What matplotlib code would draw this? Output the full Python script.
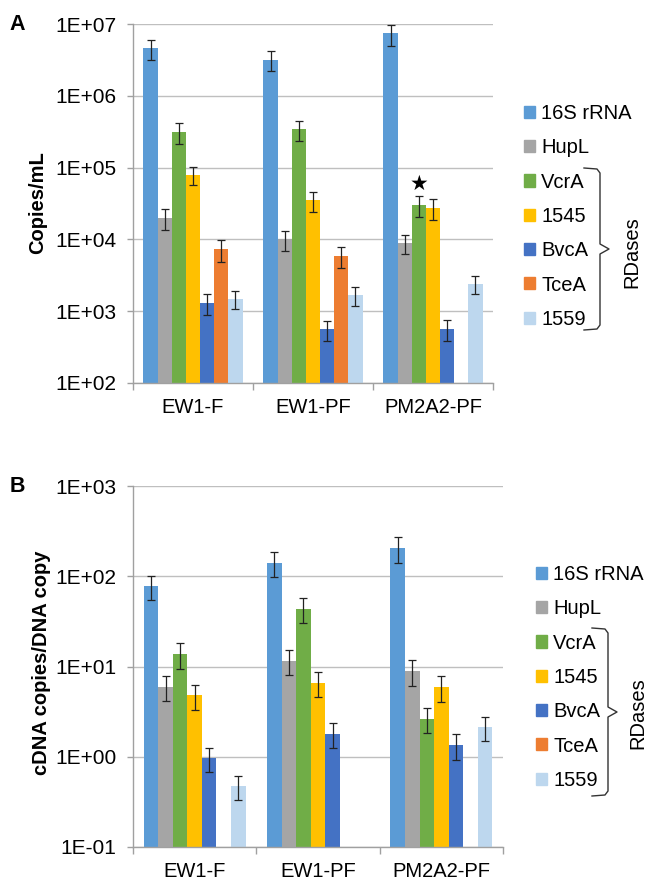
import numpy as np
import matplotlib
matplotlib.use('Agg')
import matplotlib.pyplot as plt
from matplotlib.lines import Line2D
from matplotlib.patches import Patch
from matplotlib.ticker import FixedLocator, FuncFormatter, NullLocator

plt.rcParams['font.family'] = ['Liberation Sans', 'DejaVu Sans']

groups = ['EW1-F', 'EW1-PF', 'PM2A2-PF']
genes = ['16S rRNA', 'HupL', 'VcrA', '1545', 'BvcA', 'TceA', '1559']
colors = ['#5B9BD5', '#A5A5A5', '#70AD47', '#FFC000', '#4472C4', '#ED7D31', '#BDD7EE']
nan = np.nan

# panel A - copies/mL (gene order as above)
a_ew1f = [4.6e6, 2.0e4, 3.15e5, 8.0e4, 1.3e3, 7.3e3, 1.5e3]
a_ew1f_err = [1.4e6, 6.5e3, 1.0e5, 2.3e4, 4.2e2, 2.4e3, 4.4e2]
a_ew1pf = [3.2e6, 1.0e4, 3.45e5, 3.5e4, 5.6e2, 5.9e3, 1.67e3]
a_ew1pf_err = [1.0e6, 3.2e3, 1.07e5, 1.08e4, 1.8e2, 1.9e3, 4.9e2]
a_pm2a2 = [7.4e6, 8.9e3, 3.05e4, 2.75e4, 5.7e2, nan, 2.4e3]
a_pm2a2_err = [2.4e6, 2.7e3, 9.8e3, 8.7e3, 1.8e2, nan, 6.6e2]

# panel B - cDNA copies per DNA copy
b_ew1f = [77, 6.0, 13.9, 4.8, 0.97, nan, 0.47]
b_ew1f_err = [23, 1.8, 4.4, 1.5, 0.29, nan, 0.14]
b_ew1pf = [142, 11.6, 43.7, 6.6, 1.8, nan, nan]
b_ew1pf_err = [44, 3.5, 13.6, 2.0, 0.54, nan, nan]
b_pm2a2 = [208, 8.95, 2.64, 5.9, 1.36, nan, 2.12]
b_pm2a2_err = [66, 2.8, 0.83, 1.85, 0.43, nan, 0.62]

W, H = 664, 893
fig = plt.figure(figsize=(W / 100, H / 100), dpi=100)


def fxy(px, py):
    return px / W, 1 - py / H


def draw_panel(ax, vals, errs, ylim):
    vals = np.array(vals)
    errs = np.array(errs)
    n = len(genes)
    w = 0.118
    centers = np.arange(len(groups)) + 0.5
    for i in range(n):
        x = centers + (i - (n - 1) / 2) * w
        v = vals[:, i]
        e = errs[:, i]
        ok = ~np.isnan(v)
        if ok.any():
            ax.bar(x[ok], v[ok], w, color=colors[i], zorder=2)
            ax.errorbar(x[ok], v[ok], yerr=e[ok], fmt='none', ecolor='#222222',
                        elinewidth=0.9, capsize=3, capthick=0.9, zorder=3)
    ax.set_yscale('log')
    ax.set_ylim(*ylim)
    ax.set_xlim(0, len(groups))
    decades = 10.0 ** np.arange(np.log10(ylim[0]), np.log10(ylim[1]) + 1)
    ax.yaxis.set_major_locator(FixedLocator(decades))
    ax.yaxis.set_minor_locator(NullLocator())
    ax.yaxis.set_major_formatter(FuncFormatter(lambda v, p: '{:.0E}'.format(v)))
    ax.xaxis.set_major_locator(FixedLocator(centers))
    ax.xaxis.set_major_formatter(FuncFormatter(lambda v, p: groups[int(v)]))
    ax.xaxis.set_minor_locator(FixedLocator(np.arange(len(groups) + 1)))
    ax.tick_params(axis='x', which='major', length=0, pad=11, labelsize=14.5)
    ax.tick_params(axis='x', which='minor', length=5, width=1, color='#A0A0A0')
    ax.tick_params(axis='y', which='major', length=4, width=1, color='#A0A0A0',
                   pad=8, labelsize=15)
    ax.yaxis.grid(True, color='#BFBFBF', lw=1)
    ax.set_axisbelow(True)
    for s in ['top', 'right']:
        ax.spines[s].set_visible(False)
    for s in ['left', 'bottom']:
        ax.spines[s].set_color('#A0A0A0')
        ax.spines[s].set_linewidth(1)
    handles = [Patch(color=c) for c in colors]
    return handles


def brace(pts):
    xs, ys = zip(*[fxy(px, py) for px, py in pts])
    fig.add_artist(Line2D(xs, ys, color='#333333', lw=1, transform=fig.transFigure))


leg_kw = dict(loc='upper left', bbox_transform=fig.transFigure, frameon=False,
              fontsize=14.5, handlelength=0.55, handleheight=0.55, handletextpad=0.3,
              labelspacing=0.76, borderpad=0, borderaxespad=0)

# Panel A
axA = fig.add_axes([133 / W, 1 - 383 / H, 360 / W, 359 / H])
hA = draw_panel(axA, [a_ew1f, a_ew1pf, a_pm2a2],
                [a_ew1f_err, a_ew1pf_err, a_pm2a2_err], (1e2, 1e7))
# star above VcrA in PM2A2-PF
xs_star = 2.5 + (2 - 3) * 0.118
axA.annotate('★', xy=(xs_star, a_pm2a2[2] + a_pm2a2_err[2]), xytext=(0, 9),
             textcoords='offset points', ha='center', va='center', fontsize=15,
             family='DejaVu Sans')
axA.legend(hA, genes, bbox_to_anchor=fxy(524, 104), **leg_kw)
fig.text(*fxy(38, 203), 'Copies/mL', rotation=90, ha='center', va='center',
         fontsize=14.5, fontweight='bold')
fig.text(*fxy(17, 24), 'A', ha='center', va='center', fontsize=15.5, fontweight='bold')
brace([(584, 168), (597, 169), (600, 173), (600, 244), (609, 249), (600, 254),
       (600, 325), (597, 329), (584, 330)])
fig.text(*fxy(632, 252), 'RDases', rotation=90, ha='center', va='center', fontsize=14.5)

# Panel B
axB = fig.add_axes([133 / W, 1 - 847 / H, 370 / W, 361 / H])
hB = draw_panel(axB, [b_ew1f, b_ew1pf, b_pm2a2],
                [b_ew1f_err, b_ew1pf_err, b_pm2a2_err], (1e-1, 1e3))
axB.legend(hB, genes, bbox_to_anchor=fxy(536, 565), **leg_kw)
fig.text(*fxy(42, 663), 'cDNA copies/DNA copy', rotation=90, ha='center', va='center',
         fontsize=14.5, fontweight='bold')
fig.text(*fxy(17, 487), 'B', ha='center', va='center', fontsize=15.5, fontweight='bold')
brace([(592, 628), (605, 629), (608, 633), (608, 707), (617, 712), (608, 717),
       (608, 791), (605, 795), (592, 796)])
fig.text(*fxy(638, 713), 'RDases', rotation=90, ha='center', va='center', fontsize=14.5)

fig.savefig('out.png', dpi=100)
